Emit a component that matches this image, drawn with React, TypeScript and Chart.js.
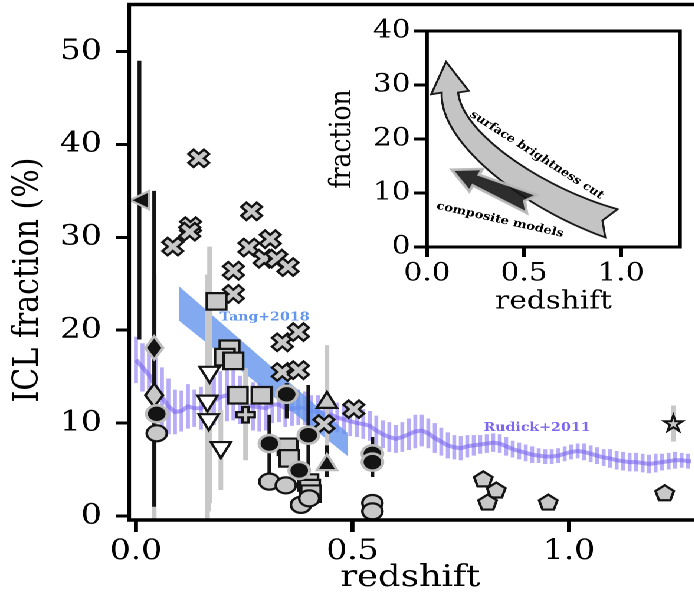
import React, { useEffect, useRef } from "react";
import { Chart, registerables } from "chart.js";

Chart.register(...registerables);

// The reference picture is stretched horizontally; we draw unstretched and scale the page.
const S = 1.18;
const PAGE_H = 601;
const W0 = Math.floor(694 / S);
const SERIF = "'DejaVu Serif', 'Liberation Serif', serif";

// ---------------- main panel : axes ----------------
const xTicks = [0, 0.5, 1.0];
const xTickLabels = ["0.0", "0.5", "1.0"];
const yTicks = [0, 10, 20, 30, 40, 50];
const xMin = -0.0161;
const xMax = 1.2828;
const yMin = -0.43;
const yMax = 55.06;

// ---------------- main panel : observations ----------------
const crossZ = [0.145, 0.126, 0.124, 0.085, 0.267, 0.261, 0.310, 0.296, 0.325, 0.351, 0.225, 0.225, 0.338, 0.375, 0.338, 0.375, 0.503, 0.434];
const crossF = [38.5, 31.2, 30.6, 29.0, 32.8, 28.9, 29.8, 27.7, 27.7, 26.8, 26.4, 23.9, 18.7, 19.8, 15.5, 15.7, 11.5, 9.9];

const squareZ = [0.186, 0.216, 0.205, 0.225, 0.235, 0.290, 0.350, 0.354, 0.398, 0.402, 0.404];
const squareF = [23.1, 18.0, 17.1, 16.7, 13.0, 13.0, 7.45, 6.2, 3.6, 3.0, 2.4];

const triDownZ = [0.170, 0.165, 0.168, 0.196];
const triDownF = [15.2, 12.1, 10.1, 7.1];
const triDownLo = [1.4, -0.5, 0.5, 2.8];
const triDownHi = [29.0, 26.0, 19.7, 11.4];

const plusZ = [0.253];
const plusF = [10.9];
const plusLo = [6.0];
const plusHi = [15.9];

const triUpGrayZ = [0.441];
const triUpGrayF = [12.5];
const triUpGrayLo = [6.5];
const triUpGrayHi = [18.4];

const triUpBlackZ = [0.441];
const triUpBlackF = [5.8];
const triUpBlackLo = [4.2];
const triUpBlackHi = [7.6];

const pentZ = [0.802, 0.832, 0.812, 0.952, 1.221];
const pentF = [4.0, 2.8, 1.5, 1.5, 2.5];

const starZ = [1.241];
const starF = [10.0];
const starLo = [8.0];
const starHi = [11.9];

const diamGrayZ = [0.042];
const diamGrayF = [13.0];
const diamGrayLo = [-0.4];
const diamGrayHi = [26.0];

const diamBlackZ = [0.042];
const diamBlackF = [18.1];
const diamBlackLo = [1.0];
const diamBlackHi = [35.0];

const triLeftZ = [0.008];
const triLeftF = [34.0];
const triLeftLo = [19.0];
const triLeftHi = [49.0];

const grayCircZ = [0.048, 0.308, 0.346, 0.381, 0.400, 0.546, 0.546];
const grayCircF = [8.9, 3.7, 3.3, 1.2, 1.9, 1.4, 0.5];

const blackCircZ = [0.048, 0.348, 0.308, 0.398, 0.377, 0.546, 0.546];
const blackCircF = [11.0, 13.1, 7.8, 8.7, 4.9, 6.7, 5.8];
const blackCircLo = [NaN, 10.5, 4.6, 4.6, NaN, 4.2, NaN];
const blackCircHi = [NaN, 14.3, 10.9, 14.1, NaN, 8.5, NaN];

// ---------------- main panel : models ----------------
const rudickZ = [
  0.000, 0.015, 0.030, 0.045, 0.060, 0.075, 0.090, 0.105, 0.120, 0.135, 0.150, 0.165, 0.180, 0.195, 0.210,
  0.225, 0.240, 0.255, 0.270, 0.285, 0.300, 0.315, 0.330, 0.345, 0.360, 0.375, 0.390, 0.405, 0.420, 0.435,
  0.450, 0.465, 0.480, 0.495, 0.510, 0.525, 0.540, 0.555, 0.570, 0.585, 0.600, 0.615, 0.630, 0.645, 0.660,
  0.675, 0.690, 0.705, 0.720, 0.735, 0.750, 0.765, 0.780, 0.795, 0.810, 0.825, 0.840, 0.855, 0.870, 0.885,
  0.900, 0.915, 0.930, 0.945, 0.960, 0.975, 0.990, 1.005, 1.020, 1.035, 1.050, 1.065, 1.080, 1.095, 1.110,
  1.125, 1.140, 1.155, 1.170, 1.185, 1.200, 1.215, 1.230, 1.245, 1.260, 1.275, 1.290,
];
const rudickF = [
  16.8, 16.0, 15.2, 14.0, 12.8, 11.8, 11.2, 11.3, 11.8, 11.6, 11.6, 12.0, 12.4, 12.8, 13.0,
  13.0, 12.5, 11.9, 11.8, 11.7, 11.6, 12.0, 12.0, 11.6, 11.5, 11.7, 11.6, 11.3, 11.2, 11.0,
  10.9, 10.6, 10.4, 10.2, 10.0, 9.9, 9.7, 9.2, 8.8, 8.5, 8.3, 8.5, 8.8, 9.1, 9.2,
  8.9, 8.4, 8.0, 7.6, 7.4, 7.3, 7.5, 7.6, 7.7, 7.8, 7.9, 7.8, 7.5, 7.2, 7.0,
  6.8, 6.6, 6.5, 6.4, 6.4, 6.5, 6.7, 6.9, 7.0, 6.9, 6.7, 6.5, 6.3, 6.2, 6.0,
  5.9, 5.8, 5.8, 5.7, 5.6, 5.7, 5.8, 5.9, 6.0, 6.0, 5.9, 5.9,
];
const rudickErr = [
  2.5, 2.6, 2.8, 3.0, 3.2, 3.0, 2.4, 2.2, 2.4, 2.0, 2.3, 2.2, 2.6, 2.8, 2.8,
  2.7, 2.6, 2.4, 2.6, 2.6, 2.4, 2.0, 1.9, 2.0, 1.8, 1.9, 1.8, 1.7, 1.8, 1.7,
  1.6, 1.6, 1.6, 1.6, 1.5, 1.6, 1.6, 1.6, 1.5, 1.6, 1.5, 1.6, 1.7, 1.8, 1.7,
  1.6, 1.6, 1.5, 1.4, 1.3, 1.3, 1.2, 1.1, 1.0, 1.0, 1.0, 1.0, 1.0, 0.9, 0.9,
  0.9, 0.9, 0.8, 0.8, 0.8, 0.8, 0.8, 0.8, 0.8, 0.9, 0.9, 0.9, 0.9, 1.0, 1.0,
  1.0, 1.0, 1.0, 1.0, 1.0, 1.0, 0.9, 0.9, 0.9, 0.8, 0.8, 0.8,
];

const tangZ = [0.10, 0.49];
const tangLow = [21.0, 6.4];
const tangHigh = [24.7, 8.9];

const tangLabel = { z: 0.297, f: 21.4, text: "Tang+2018" };
const rudickLabel = { z: 0.926, f: 9.5, text: "Rudick+2011" };

// ---------------- inset ----------------
const insetXTicks = [0, 0.5, 1.0];
const insetXTickLabels = ["0.0", "0.5", "1.0"];
const insetYTicks = [0, 10, 20, 30, 40];
const insetXMax = 1.304;
const insetYMax = 40;
// "surface brightness cut" arrow: tail, control 1, control 2, neck, tip
const sbArrowZ = [0.950, 0.560, 0.120, 0.118, 0.098];
const sbArrowF = [4.4, 8.8, 20.0, 28.6, 34.3];
// "composite models" arrow: tail, tip
const cmArrowZ = [0.541, 0.127];
const cmArrowF = [7.96, 14.3];
const sbText = { z: 0.565, f: 17.0, text: "surface brightness cut", angle: 36.8 };
const cmText = { z: 0.376, f: 5.0, text: "composite models", angle: 14.8 };

// ---------------- styling ----------------
const GRAY = "#c8c8c8";
const EDGE = "#141414";
const LIGHT_EDGE = "#bcbcbc";

type Pt = [number, number];

// matplotlib filled plus: arms one third of the marker width
const PLUS: Pt[] = [
  [-1, -3], [1, -3], [1, -1], [3, -1], [3, 1], [1, 1], [1, 3], [-1, 3], [-1, 1], [-3, 1], [-3, -1], [-1, -1],
];

function unitShape(kind: string): Pt[] {
  switch (kind) {
    case "square":
      return [[-1, -1], [1, -1], [1, 1], [-1, 1]];
    case "triUp":
      return [[0, -1], [1, 1], [-1, 1]];
    case "triDown":
      return [[0, 1], [1, -1], [-1, -1]];
    case "triLeft":
      return [[-1, 0], [1, -1], [1, 1]];
    case "diamond":
      return [[0, -1], [1, 0], [0, 1], [-1, 0]];
    case "plus":
      return PLUS.map(([a, b]) => [a / 3, b / 3] as Pt);
    case "x": {
      const m = 4 / Math.SQRT2;
      return PLUS.map(([a, b]) => [(a - b) / Math.SQRT2 / m, (a + b) / Math.SQRT2 / m] as Pt);
    }
    case "pentagon":
    case "star": {
      const pts: Pt[] = [];
      const n = kind === "star" ? 10 : 5;
      for (let k = 0; k < n; k++) {
        const ang = (-90 + (360 / n) * k) * (Math.PI / 180);
        const r = kind === "star" && k % 2 === 1 ? 0.382 : 1;
        const sx = Math.sin((72 * Math.PI) / 180);
        const px = (r * Math.cos(ang)) / sx;
        const py = (r * Math.sin(ang) + 0.0955) / 0.9045;
        pts.push([px, py]);
      }
      return pts;
    }
  }
  return [];
}

function drawMarker(ctx: CanvasRenderingContext2D, m: any, x: number, y: number) {
  const hw = m.w / 2;
  const hh = m.h / 2;
  ctx.beginPath();
  if (m.kind === "circle") {
    ctx.ellipse(x, y, hw, hh, 0, 0, Math.PI * 2);
  } else {
    unitShape(m.kind).forEach(([a, b], i) => {
      const px = x + a * hw;
      const py = y + b * hh;
      if (i === 0) ctx.moveTo(px, py);
      else ctx.lineTo(px, py);
    });
    ctx.closePath();
  }
  ctx.fillStyle = m.fill;
  ctx.fill();
  ctx.lineWidth = m.lw;
  ctx.strokeStyle = m.edge;
  ctx.lineJoin = "miter";
  ctx.stroke();
}

function pts(z: number[], f: number[]) {
  return z.map((v, i) => ({ x: v, y: f[i] }));
}

function markerSet(label: string, z: number[], f: number[], marker: any, lo?: number[], hi?: number[], errColor?: string) {
  return {
    label,
    data: pts(z, f),
    showLine: false,
    pointRadius: 0,
    pointHoverRadius: 0,
    order: 1,
    marker,
    lo,
    hi,
    errColor,
    errWidth: errColor === GRAY ? 4 : 3.2,
  };
}

function mainDatasets(): any[] {
  return [
    {
      label: "Rudick+2011",
      data: pts(rudickZ, rudickF),
      err: rudickErr,
      borderColor: "rgba(123,104,238,0.62)",
      borderWidth: 4,
      pointRadius: 0,
      tension: 0,
      order: 3,
    },
    {
      label: "Tang lower",
      data: pts(tangZ, tangLow),
      borderWidth: 0,
      pointRadius: 0,
      order: 2,
      fill: false,
    },
    {
      label: "Tang+2018",
      data: pts(tangZ, tangHigh),
      borderWidth: 0,
      pointRadius: 0,
      order: 2,
      fill: "-1",
      backgroundColor: "rgba(100,149,237,0.8)",
    },
    markerSet("X", crossZ, crossF, { kind: "x", w: 17.5, h: 17.5, fill: GRAY, edge: EDGE, lw: 2.2 }),
    markerSet("square", squareZ, squareF, { kind: "square", w: 16.5, h: 16.5, fill: GRAY, edge: EDGE, lw: 2.2 }),
    markerSet("triDown", triDownZ, triDownF, { kind: "triDown", w: 17, h: 16, fill: "#ffffff", edge: EDGE, lw: 2.2 }, triDownLo, triDownHi, GRAY),
    markerSet("plus", plusZ, plusF, { kind: "plus", w: 15.5, h: 15.5, fill: GRAY, edge: EDGE, lw: 2.2 }, plusLo, plusHi, GRAY),
    markerSet("triUpGray", triUpGrayZ, triUpGrayF, { kind: "triUp", w: 17, h: 16, fill: GRAY, edge: EDGE, lw: 2.2 }, triUpGrayLo, triUpGrayHi, GRAY),
    markerSet("triUpBlack", triUpBlackZ, triUpBlackF, { kind: "triUp", w: 17, h: 16, fill: EDGE, edge: LIGHT_EDGE, lw: 2.2 }, triUpBlackLo, triUpBlackHi, EDGE),
    markerSet("pentagon", pentZ, pentF, { kind: "pentagon", w: 15.5, h: 15, fill: GRAY, edge: EDGE, lw: 2.2 }),
    markerSet("star", starZ, starF, { kind: "star", w: 15.5, h: 15.5, fill: GRAY, edge: EDGE, lw: 2 }, starLo, starHi, GRAY),
    markerSet("diamGray", diamGrayZ, diamGrayF, { kind: "diamond", w: 15, h: 23, fill: GRAY, edge: EDGE, lw: 2.2 }, diamGrayLo, diamGrayHi, GRAY),
    markerSet("diamBlack", diamBlackZ, diamBlackF, { kind: "diamond", w: 15, h: 23, fill: EDGE, edge: LIGHT_EDGE, lw: 2.4 }, diamBlackLo, diamBlackHi, EDGE),
    markerSet("triLeft", triLeftZ, triLeftF, { kind: "triLeft", w: 16, h: 18, fill: EDGE, edge: LIGHT_EDGE, lw: 2.2 }, triLeftLo, triLeftHi, EDGE),
    markerSet("grayCircle", grayCircZ, grayCircF, { kind: "circle", w: 17, h: 16, fill: GRAY, edge: EDGE, lw: 2.2 }),
    markerSet("blackCircle", blackCircZ, blackCircF, { kind: "circle", w: 17.5, h: 17, fill: EDGE, edge: LIGHT_EDGE, lw: 2.6 }, blackCircLo, blackCircHi, EDGE),
  ];
}

function clipArea(ctx: CanvasRenderingContext2D, chart: any) {
  const a = chart.chartArea;
  ctx.beginPath();
  ctx.rect(a.left, a.top, a.right - a.left, a.bottom - a.top);
  ctx.clip();
}

const mainPlugin = {
  id: "mainDecor",
  beforeDatasetDraw(chart: any, args: any) {
    const ds = chart.data.datasets[args.index];
    if (!ds.err) return;
    const ctx: CanvasRenderingContext2D = chart.ctx;
    const ys = chart.scales.y;
    ctx.save();
    clipArea(ctx, chart);
    ctx.strokeStyle = "rgba(123,104,238,0.55)";
    ctx.lineWidth = 3.3;
    args.meta.data.forEach((p: any, i: number) => {
      const v = ds.data[i].y;
      const e = ds.err[i];
      ctx.beginPath();
      ctx.moveTo(p.x, ys.getPixelForValue(v - e));
      ctx.lineTo(p.x, ys.getPixelForValue(v + e));
      ctx.stroke();
    });
    ctx.restore();
  },
  afterDatasetsDraw(chart: any) {
    const ctx: CanvasRenderingContext2D = chart.ctx;
    const xs = chart.scales.x;
    const ys = chart.scales.y;
    const sets = chart.data.datasets
      .map((ds: any, i: number) => ({ ds, meta: chart.getDatasetMeta(i) }))
      .filter((o: any) => o.ds.marker);
    ctx.save();
    clipArea(ctx, chart);
    // error bars below every marker
    for (const { ds, meta } of sets) {
      if (!ds.lo) continue;
      ctx.strokeStyle = ds.errColor;
      ctx.lineWidth = ds.errWidth;
      meta.data.forEach((p: any, i: number) => {
        const lo = ds.lo[i];
        const hi = ds.hi[i];
        if (!isFinite(lo) || !isFinite(hi)) return;
        ctx.beginPath();
        ctx.moveTo(p.x, ys.getPixelForValue(lo));
        ctx.lineTo(p.x, ys.getPixelForValue(hi));
        ctx.stroke();
      });
    }
    for (const { ds, meta } of sets) {
      meta.data.forEach((p: any) => drawMarker(ctx, ds.marker, p.x, p.y));
    }
    ctx.restore();

    ctx.save();
    ctx.font = `bold 12px ${SERIF}`;
    ctx.textAlign = "center";
    ctx.textBaseline = "middle";
    ctx.fillStyle = "#6495ed";
    ctx.fillText(tangLabel.text, xs.getPixelForValue(tangLabel.z), ys.getPixelForValue(tangLabel.f));
    ctx.fillStyle = "#7b68ee";
    ctx.fillText(rudickLabel.text, xs.getPixelForValue(rudickLabel.z), ys.getPixelForValue(rudickLabel.f));
    ctx.restore();
  },
  afterDraw(chart: any) {
    const ctx: CanvasRenderingContext2D = chart.ctx;
    const a = chart.chartArea;
    ctx.save();
    ctx.strokeStyle = "#000";
    ctx.lineWidth = 3.5;
    ctx.lineCap = "square";
    ctx.beginPath();
    ctx.moveTo(a.left, a.top);
    ctx.lineTo(a.right + 4, a.top);
    ctx.moveTo(a.left, a.top);
    ctx.lineTo(a.left, a.bottom);
    ctx.lineTo(a.right + 4, a.bottom);
    ctx.stroke();

    ctx.fillStyle = "#000";
    ctx.font = `30px ${SERIF}`;
    ctx.textAlign = "center";
    ctx.textBaseline = "middle";
    ctx.fillText("redshift", (a.left + a.right) / 2, 578);
    ctx.translate(24, 280);
    ctx.rotate(-Math.PI / 2);
    ctx.fillText("ICL fraction (%)", 0, 0);
    ctx.restore();
  },
};

function mainConfig(): any {
  return {
    type: "line",
    data: { datasets: mainDatasets() },
    options: {
      animation: false,
      responsive: true,
      maintainAspectRatio: false,
      devicePixelRatio: 2,
      events: [],
      layout: { padding: { top: 4.5, right: 0, bottom: 0, left: 0 } },
      plugins: { legend: { display: false }, tooltip: { enabled: false }, title: { display: false } },
      scales: {
        x: {
          type: "linear",
          min: xMin,
          max: xMax,
          afterBuildTicks: (ax: any) => {
            ax.ticks = xTicks.map((v) => ({ value: v }));
          },
          afterFit: (ax: any) => {
            ax.height = PAGE_H - 520;
            ax.paddingLeft = 0;
            ax.paddingRight = 0;
          },
          border: { display: false },
          grid: {
            display: true,
            drawOnChartArea: false,
            drawTicks: true,
            tickLength: 12,
            tickWidth: 3.4,
            tickColor: "#000",
            color: "#000",
            lineWidth: 3.4,
          },
          ticks: {
            font: { family: SERIF, size: 28 },
            color: "#000",
            padding: 3,
            maxRotation: 0,
            minRotation: 0,
            autoSkip: false,
            callback: (v: any) => xTickLabels[xTicks.indexOf(Number(v))] ?? "",
          },
        },
        y: {
          type: "linear",
          min: yMin,
          max: yMax,
          afterBuildTicks: (ax: any) => {
            ax.ticks = yTicks.map((v) => ({ value: v }));
          },
          afterFit: (ax: any) => {
            ax.width = 129 / S;
            ax.paddingTop = 0;
            ax.paddingBottom = 0;
          },
          border: { display: false },
          grid: {
            display: true,
            drawOnChartArea: false,
            drawTicks: true,
            tickLength: 11,
            tickWidth: 3,
            tickColor: "#000",
            color: "#000",
            lineWidth: 3,
          },
          ticks: {
            font: { family: SERIF, size: 28 },
            color: "#000",
            padding: 12,
            autoSkip: false,
            callback: (v: any) => String(v),
          },
        },
      },
    },
    plugins: [mainPlugin],
  };
}

// ---------------- inset ----------------
const IL = 315 / S;
const IW = Math.floor(W0 - IL);
const IH = 330;

function fancyArrow(
  ctx: CanvasRenderingContext2D,
  P: Pt[],
  tip: Pt,
  o: { tailHW: number; neckHW: number; headHW: number; notch: number },
  fill: string,
  stroke: string,
  lw: number
) {
  const N = 48;
  const L: Pt[] = [];
  const R: Pt[] = [];
  let d0: Pt = [1, 0];
  for (let i = 0; i <= N; i++) {
    const t = i / N;
    const u = 1 - t;
    const bx = u * u * u * P[0][0] + 3 * u * u * t * P[1][0] + 3 * u * t * t * P[2][0] + t * t * t * P[3][0];
    const by = u * u * u * P[0][1] + 3 * u * u * t * P[1][1] + 3 * u * t * t * P[2][1] + t * t * t * P[3][1];
    const dx = 3 * u * u * (P[1][0] - P[0][0]) + 6 * u * t * (P[2][0] - P[1][0]) + 3 * t * t * (P[3][0] - P[2][0]);
    const dy = 3 * u * u * (P[1][1] - P[0][1]) + 6 * u * t * (P[2][1] - P[1][1]) + 3 * t * t * (P[3][1] - P[2][1]);
    const len = Math.hypot(dx, dy) || 1;
    const nx = -dy / len;
    const ny = dx / len;
    if (i === 0) d0 = [dx / len, dy / len];
    const hw = o.tailHW + (o.neckHW - o.tailHW) * t;
    L.push([bx + nx * hw, by + ny * hw]);
    R.push([bx - nx * hw, by - ny * hw]);
  }
  const P3 = P[3];
  let hx = tip[0] - P3[0];
  let hy = tip[1] - P3[1];
  const hl = Math.hypot(hx, hy) || 1;
  hx /= hl;
  hy /= hl;
  const mx = -hy;
  const my = hx;
  const hL: Pt = [P3[0] + mx * o.headHW, P3[1] + my * o.headHW];
  const hR: Pt = [P3[0] - mx * o.headHW, P3[1] - my * o.headHW];
  const notch: Pt = [P[0][0] + d0[0] * o.notch, P[0][1] + d0[1] * o.notch];
  ctx.beginPath();
  ctx.moveTo(notch[0], notch[1]);
  L.forEach((p) => ctx.lineTo(p[0], p[1]));
  ctx.lineTo(hL[0], hL[1]);
  ctx.lineTo(tip[0], tip[1]);
  ctx.lineTo(hR[0], hR[1]);
  for (let i = R.length - 1; i >= 0; i--) ctx.lineTo(R[i][0], R[i][1]);
  ctx.closePath();
  ctx.fillStyle = fill;
  ctx.fill();
  ctx.lineWidth = lw;
  ctx.strokeStyle = stroke;
  ctx.lineJoin = "miter";
  ctx.stroke();
}

const insetPlugin = {
  id: "insetDecor",
  beforeDraw(chart: any) {
    const a = chart.chartArea;
    const ctx: CanvasRenderingContext2D = chart.ctx;
    ctx.save();
    ctx.fillStyle = "#ffffff";
    ctx.fillRect(a.left, a.top, a.right - a.left, a.bottom - a.top);
    ctx.restore();
  },
  afterDatasetsDraw(chart: any) {
    const ctx: CanvasRenderingContext2D = chart.ctx;
    const xs = chart.scales.x;
    const ys = chart.scales.y;
    const get = (i: number): Pt[] => chart.getDatasetMeta(i).data.map((p: any) => [p.x, p.y] as Pt);
    const sb = get(0);
    const cm = get(1);
    ctx.save();
    clipArea(ctx, chart);
    fancyArrow(ctx, [sb[0], sb[1], sb[2], sb[3]], sb[4], { tailHW: 15, neckHW: 7, headHW: 16, notch: 8 }, "#c4c4c4", "#1a1a1a", 1.8);

    const t0 = cm[0];
    const tip = cm[1];
    const dl = Math.hypot(tip[0] - t0[0], tip[1] - t0[1]);
    const ux = (tip[0] - t0[0]) / dl;
    const uy = (tip[1] - t0[1]) / dl;
    const neck: Pt = [tip[0] - ux * 23, tip[1] - uy * 23];
    const c1: Pt = [t0[0] + (neck[0] - t0[0]) / 3, t0[1] + (neck[1] - t0[1]) / 3];
    const c2: Pt = [t0[0] + ((neck[0] - t0[0]) * 2) / 3, t0[1] + ((neck[1] - t0[1]) * 2) / 3];
    fancyArrow(ctx, [t0, c1, c2, neck], tip, { tailHW: 10, neckHW: 6, headHW: 12.5, notch: 7 }, "rgba(22,22,22,0.9)", "rgba(185,185,185,0.95)", 2.6);

    ctx.fillStyle = "#000";
    ctx.font = `bold 11px ${SERIF}`;
    ctx.textAlign = "center";
    ctx.textBaseline = "middle";
    for (const tx of [sbText, cmText]) {
      ctx.save();
      ctx.translate(xs.getPixelForValue(tx.z), ys.getPixelForValue(tx.f));
      ctx.rotate((tx.angle * Math.PI) / 180);
      ctx.fillText(tx.text, 0, 0);
      ctx.restore();
    }
    ctx.restore();
  },
  afterDraw(chart: any) {
    const ctx: CanvasRenderingContext2D = chart.ctx;
    const a = chart.chartArea;
    ctx.save();
    ctx.strokeStyle = "#000";
    ctx.lineWidth = 3;
    ctx.strokeRect(a.left, a.top, a.right - a.left, a.bottom - a.top);
    ctx.fillStyle = "#000";
    ctx.font = `25px ${SERIF}`;
    ctx.textAlign = "center";
    ctx.textBaseline = "middle";
    ctx.fillText("redshift", (a.left + a.right) / 2, 302);
    ctx.translate(343 / S - IL, (a.top + a.bottom) / 2);
    ctx.rotate(-Math.PI / 2);
    ctx.fillText("fraction", 0, 0);
    ctx.restore();
  },
};

function insetConfig(): any {
  return {
    type: "line",
    data: {
      datasets: [
        { label: "surface brightness cut", data: pts(sbArrowZ, sbArrowF), showLine: false, pointRadius: 0 },
        { label: "composite models", data: pts(cmArrowZ, cmArrowF), showLine: false, pointRadius: 0 },
      ],
    },
    options: {
      animation: false,
      responsive: true,
      maintainAspectRatio: false,
      devicePixelRatio: 2,
      events: [],
      layout: { padding: { top: 31, right: IW - (680 - 315) / S, bottom: 0, left: 0 } },
      plugins: { legend: { display: false }, tooltip: { enabled: false }, title: { display: false } },
      scales: {
        x: {
          type: "linear",
          min: 0,
          max: insetXMax,
          afterBuildTicks: (ax: any) => {
            ax.ticks = insetXTicks.map((v) => ({ value: v }));
          },
          afterFit: (ax: any) => {
            ax.height = IH - 247;
            ax.paddingLeft = 0;
            ax.paddingRight = 0;
          },
          border: { display: false },
          grid: { display: true, drawOnChartArea: false, drawTicks: true, tickLength: 10, tickWidth: 3, tickColor: "#000", color: "#000", lineWidth: 3 },
          ticks: {
            font: { family: SERIF, size: 25 },
            color: "#000",
            padding: 2,
            maxRotation: 0,
            autoSkip: false,
            callback: (v: any) => insetXTickLabels[insetXTicks.indexOf(Number(v))] ?? "",
          },
        },
        y: {
          type: "linear",
          min: 0,
          max: insetYMax,
          afterBuildTicks: (ax: any) => {
            ax.ticks = insetYTicks.map((v) => ({ value: v }));
          },
          afterFit: (ax: any) => {
            ax.width = (427 - 315) / S;
            ax.paddingTop = 0;
            ax.paddingBottom = 0;
          },
          border: { display: false },
          grid: { display: true, drawOnChartArea: false, drawTicks: true, tickLength: 11, tickWidth: 3, tickColor: "#000", color: "#000", lineWidth: 3 },
          ticks: {
            font: { family: SERIF, size: 25 },
            color: "#000",
            padding: 3,
            autoSkip: false,
            callback: (v: any) => String(v),
          },
        },
      },
    },
    plugins: [insetPlugin],
  };
}

export default function App() {
  const mainRef = useRef<HTMLCanvasElement>(null);
  const insetRef = useRef<HTMLCanvasElement>(null);
  useEffect(() => {
    document.body.style.overflow = "hidden";
    const main = new Chart(mainRef.current as HTMLCanvasElement, mainConfig());
    const inset = new Chart(insetRef.current as HTMLCanvasElement, insetConfig());
    return () => {
      main.destroy();
      inset.destroy();
    };
  }, []);
  return (
    <div
      style={{
        position: "absolute",
        left: 0,
        top: 0,
        width: W0,
        height: PAGE_H,
        transform: `scaleX(${S})`,
        transformOrigin: "0 0",
        background: "#fff",
      }}
    >
      <div style={{ position: "absolute", left: 0, top: 0, width: W0, height: PAGE_H }}>
        <canvas ref={mainRef} />
      </div>
      <div style={{ position: "absolute", left: IL, top: 0, width: IW, height: IH }}>
        <canvas ref={insetRef} />
      </div>
    </div>
  );
}
